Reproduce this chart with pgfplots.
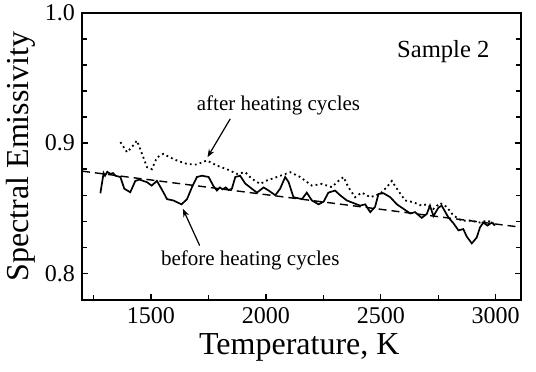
\documentclass[border=0pt]{standalone}
\usepackage{fontspec}
\setmainfont{Liberation Serif}
\usepackage{pgfplots}
\pgfplotsset{compat=1.18}
\usetikzlibrary{calc,arrows.meta}
\begin{document}
\begin{tikzpicture}
\begin{axis}[
  scale only axis,
  width=219.5pt, height=143.5pt,
  xmin=1200, xmax=3110,
  ymin=0.7795, ymax=1.0,
  xtick={1500,2000,2500,3000},
  minor xtick={1250,1750,2250,2750},
  ytick={0.8,0.9,1.0},
  minor ytick={0.82,0.84,0.86,0.88,0.92,0.94,0.96,0.98},
  xtick pos=bottom, ytick pos=both,
  tick align=inside,
  major tick length=3.2pt, minor tick length=2.4pt,
  every tick/.style={black, line width=0.7pt},
  axis line style={line width=1.3pt},
  /pgf/number format/assume math mode=true,
  xticklabel style={/pgf/number format/set thousands separator={}, font=\fontsize{12}{13}\selectfont},
  yticklabel style={/pgf/number format/fixed, /pgf/number format/fixed zerofill, /pgf/number format/precision=1, font=\fontsize{12}{13}\selectfont},
  xlabel={Temperature, K},
  ylabel={Spectral Emissivity},
  xlabel style={font=\fontsize{16}{18}\selectfont, at={(axis description cs:0.495,-0.1916)}, anchor=base},
  ylabel style={font=\fontsize{16}{18}\selectfont, at={(axis description cs:-0.139,0.5)}, anchor=center},
  clip=false,
]
% dashed fit
\addplot[black, line width=0.7pt, dash pattern=on 4pt off 2.5pt] coordinates {(1200,0.8785) (3110,0.8354)};
% before heating cycles (solid)
\addplot[black, line width=0.85pt] coordinates {
(1280,0.8615) (1294,0.877) (1300,0.875) (1310,0.878) (1323,0.8764) (1335,0.877) (1345,0.875) (1367,0.874)
(1384,0.865) (1410,0.8623) (1432,0.871) (1450,0.872) (1483,0.870) (1503,0.8674)
(1526,0.871) (1554,0.8623) (1570,0.857) (1597,0.856) (1633,0.853) (1657,0.857)
(1678,0.866) (1700,0.874) (1722,0.875) (1751,0.874) (1772,0.867) (1787,0.8636)
(1800,0.866) (1812,0.8645) (1825,0.866) (1838,0.864) (1852,0.865) (1867,0.874)
(1888,0.875) (1910,0.869) (1939,0.865) (1961,0.862) (1990,0.866) (2012,0.8636)
(2041,0.860) (2062,0.865) (2084,0.874) (2099,0.870) (2120,0.8585) (2157,0.857)
(2178,0.862) (2200,0.856) (2229,0.853) (2251,0.855) (2272,0.862) (2301,0.8636)
(2323,0.860) (2352,0.856) (2381,0.854) (2410,0.852) (2432,0.853) (2454,0.847)
(2475,0.851) (2490,0.861) (2512,0.8615) (2541,0.8585) (2570,0.853) (2599,0.8495)
(2628,0.846) (2649,0.847) (2678,0.8426) (2700,0.8456) (2714,0.852) (2729,0.844)
(2751,0.8505) (2765,0.852) (2794,0.843) (2816,0.8385) (2838,0.833) (2859,0.834)
(2874,0.8282) (2896,0.823) (2917,0.8274) (2932,0.8354) (2946,0.839) (2964,0.8367)
(2983,0.839) (2997,0.8367)
};
% after heating cycles (dotted)
\addplot[black, line width=0.9pt, dash pattern=on 0.9pt off 1.6pt] coordinates {
(1367,0.9008) (1396,0.893) (1417,0.897) (1439,0.902) (1461,0.8918) (1483,0.8815)
(1504,0.880) (1526,0.889) (1554,0.8918) (1584,0.889) (1613,0.8867) (1657,0.884)
(1700,0.8836) (1743,0.8867) (1787,0.8828) (1830,0.880) (1874,0.8764) (1910,0.8777)
(1939,0.8726) (1975,0.8687) (2004,0.8713) (2048,0.874) (2106,0.8777) (2149,0.874)
(2200,0.8674) (2243,0.8687) (2287,0.8662) (2316,0.871) (2338,0.874) (2359,0.8662)
(2388,0.8585) (2417,0.862) (2454,0.8585) (2497,0.861) (2526,0.8662) (2548,0.871)
(2570,0.865) (2606,0.856) (2642,0.8546) (2678,0.852) (2700,0.853) (2729,0.8495)
(2758,0.854) (2787,0.851) (2816,0.8444) (2852,0.8405) (2888,0.8405) (2932,0.839)
(2961,0.8405) (2990,0.839)
};
\node[font=\fontsize{12.3}{14}\selectfont] at (axis cs:2772,0.970) {Sample 2};
\node[font=\fontsize{10.5}{12}\selectfont] at (axis cs:2055,0.929) {after heating cycles};
\node[font=\fontsize{10.5}{12}\selectfont] at (axis cs:1932,0.8097) {before heating cycles};
\draw[-{Stealth[length=4pt,width=3pt]}, line width=0.6pt] (axis cs:1845,0.9187) -- (axis cs:1746,0.8892);
\draw[-{Stealth[length=4pt,width=3pt]}, line width=0.6pt] (axis cs:1712,0.8213) -- (axis cs:1639,0.8495);
\end{axis}
\pgfresetboundingbox
\path[use as bounding box] ($(current axis.south west)+(-41pt,-35.5pt)$) rectangle ($(current axis.north east)+(7.5pt,6.5pt)$);
\end{tikzpicture}
\end{document}
